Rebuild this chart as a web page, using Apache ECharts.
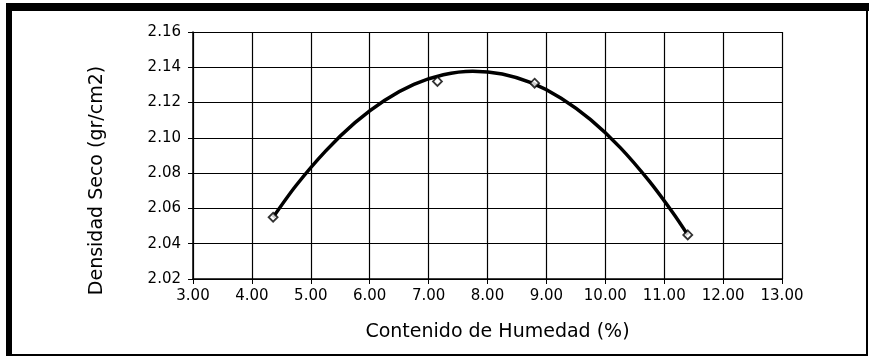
<!DOCTYPE html>
<html>
<head>
<meta charset="utf-8">
<script src="https://cdn.jsdelivr.net/npm/echarts@6/dist/echarts.min.js"></script>
<style>
  html, body { margin: 0; padding: 0; background: #fff; }
  #chart { width: 869px; height: 358px; }
</style>
</head>
<body>
<div id="chart"></div>
<script>
// Compaction test: moisture content (%) vs. dry density (gr/cm2)
const moisture = [4.36, 7.15, 8.80, 11.40];
const dryDensity = [2.055, 2.132, 2.131, 2.045];

// Fitted compaction curve, sampled along its length
const curveMoisture = [4.36, 4.75, 5.25, 5.75, 6.25, 6.75, 7.25, 7.75, 8.25, 8.75, 9.25, 9.75, 10.25, 10.75, 11.15, 11.40];
const curveDensity  = [2.055, 2.073, 2.0925, 2.1086, 2.1212, 2.1303, 2.1358, 2.1378, 2.1362, 2.1311, 2.1225, 2.1103, 2.0946, 2.0753, 2.0574, 2.045];

const xTitle = 'Contenido de Humedad (%)';
const yTitle = 'Densidad Seco (gr/cm2)';

const pts = moisture.map((x, i) => [x, dryDensity[i]]);
const curve = curveMoisture.map((x, i) => [x, curveDensity[i]]);

const FONT = 'DejaVu Sans';
const chart = echarts.init(document.getElementById('chart'), null, { renderer: 'canvas' });

chart.setOption({
  backgroundColor: '#fff',
  animation: false,
  textStyle: { fontFamily: FONT, color: '#000' },
  grid: { left: 193, right: 87, top: 32, bottom: 79 },
  xAxis: {
    type: 'value', min: 3, max: 13, interval: 1,
    name: xTitle, nameLocation: 'middle', nameGap: 44,
    nameTextStyle: { fontSize: 19, color: '#000', padding: [0, 0, 0, 20] },
    axisLine: { show: true, lineStyle: { color: '#000', width: 1.5 } },
    axisTick: { show: true, inside: false, length: 5, lineStyle: { color: '#000' } },
    axisLabel: { fontSize: 15, color: '#000', margin: 10, formatter: v => v.toFixed(2) },
    splitLine: { show: true, lineStyle: { color: '#000', width: 1.2 } }
  },
  yAxis: {
    type: 'value', min: 2.02, max: 2.16, interval: 0.02,
    name: yTitle, nameLocation: 'middle', nameGap: 86,
    nameTextStyle: { fontSize: 19, color: '#000', padding: [0, 50, 0, 0] },
    axisLine: { show: true, lineStyle: { color: '#000', width: 1.5 } },
    axisTick: { show: true, inside: false, length: 5, lineStyle: { color: '#000' } },
    axisLabel: { fontSize: 15, color: '#000', margin: 12, formatter: v => v.toFixed(2) },
    splitLine: { show: true, lineStyle: { color: '#000', width: 1.2 } }
  },
  graphic: [
    // Frame around the figure
    { type: 'rect', shape: { x: 6, y: 3, width: 6, height: 353 }, style: { fill: '#000' }, silent: true },
    { type: 'rect', shape: { x: 6, y: 3, width: 863, height: 8 }, style: { fill: '#000' }, silent: true },
    { type: 'rect', shape: { x: 866, y: 3, width: 2, height: 353 }, style: { fill: '#000' }, silent: true },
    { type: 'rect', shape: { x: 6, y: 354, width: 862, height: 2 }, style: { fill: '#000' }, silent: true }
  ],
  series: [
    {
      type: 'line', data: curve, smooth: 0.3, showSymbol: false, symbol: 'none',
      lineStyle: { color: '#000', width: 3.5 }, z: 3
    },
    {
      type: 'scatter', data: pts, symbol: 'diamond', symbolSize: 9,
      itemStyle: { color: '#fff', borderColor: '#000', borderWidth: 1.8 }, z: 4
    }
  ]
});
</script>
</body>
</html>
